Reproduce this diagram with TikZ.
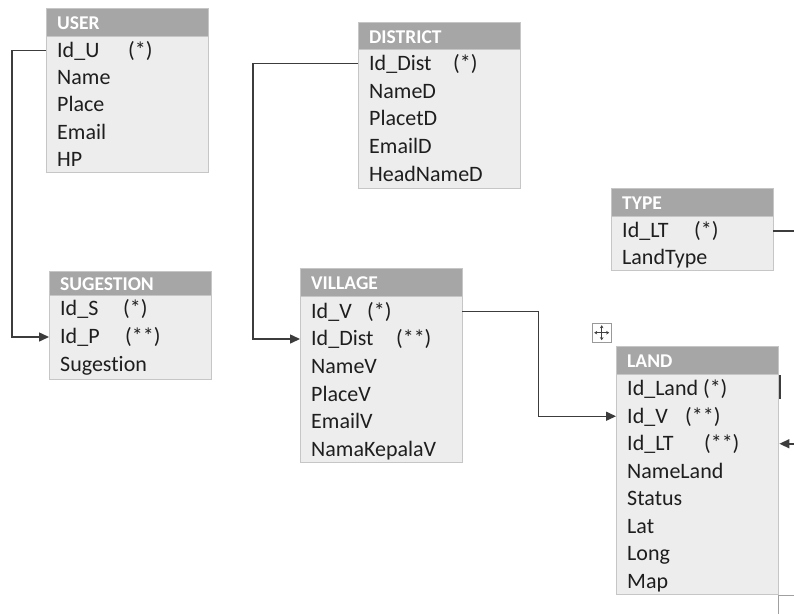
\documentclass[tikz,border=0pt]{standalone}
\usepackage{fontspec}
\setmainfont{Carlito}[Ligatures=NoCommon]
\usetikzlibrary{arrows.meta}
\definecolor{hdrgray}{HTML}{A6A6A6}
\definecolor{bodygray}{HTML}{EDEDED}
\definecolor{edgegray}{HTML}{C6C6C6}
\definecolor{linegray}{HTML}{3C3C3C}
\definecolor{txt}{HTML}{1E1E1E}
\definecolor{cornergray}{HTML}{A0A0A0}
\newcommand\bodyfnt{\fontsize{22bp}{26bp}\selectfont}
\newcommand\hdrfnt{\fontsize{19.5bp}{23bp}\selectfont\bfseries}
\tikzset{
  hdr/.style={anchor=north west, draw=edgegray, fill=hdrgray, minimum width=162bp,
    text width=140bp, inner xsep=11bp, inner ysep=0pt, align=left, text=white,
    font=\hdrfnt, text height=15.3bp, text depth=0pt},
  tblbody/.style={anchor=north west, draw=edgegray, fill=bodygray, minimum width=162bp, inner sep=0pt},
  fld/.style={anchor=west, inner sep=0pt, text height=13.9bp, text depth=0pt, text=txt, font=\bodyfnt},
  conn/.style={draw=linegray, line width=1.5bp},
  arr/.style={-{Triangle[length=10bp,width=9bp]}}
}
\begin{document}
\begin{tikzpicture}[x=1bp,y=-1bp]
\useasboundingbox (0,0) rectangle (794,614);
\fill[white] (0,0) rectangle (794,614);

% USER
\node[tblbody, minimum height=136bp] (userB) at (46,36) {};
\node[hdr, minimum height=28bp] (user) at (46,8) {USER};
\foreach \t [count=\i] in {{\makebox[71bp][l]{Id\_U}(*)},Name,Place,Email,HP}
  \node[fld] (user-\i) at (57,{36+27.2*(\i-0.5)+1}) {\t};

% SUGESTION
\node[tblbody, minimum height=84bp] (sugB) at (49,295) {};
\node[hdr, minimum height=24bp] (sug) at (49,271) {SUGESTION};
\foreach \t [count=\i] in {{\makebox[63bp][l]{Id\_S}(*)},{\makebox[65bp][l]{Id\_P}(**)},Sugestion}
  \node[fld] (sug-\i) at (60,{295+28*(\i-0.5)+0}) {\t};

% DISTRICT
\node[tblbody, minimum height=139bp] (distB) at (358,49) {};
\node[hdr, minimum height=27bp] (dist) at (358,22) {DISTRICT};
\foreach \t [count=\i] in {{\makebox[84bp][l]{Id\_Dist}(*)},NameD,PlacetD,EmailD,HeadNameD}
  \node[fld] (dist-\i) at (369,{49+27.8*(\i-0.5)+0.5}) {\t};

% VILLAGE
\node[tblbody, minimum height=166bp] (vilB) at (300,296) {};
\node[hdr, minimum height=28bp] (vil) at (300,268) {VILLAGE};
\foreach \t [count=\i] in {{\makebox[56bp][l]{Id\_V}(*)},{\makebox[85bp][l]{Id\_Dist}(**)},NameV,PlaceV,EmailV,NamaKepalaV}
  \node[fld] (vil-\i) at (311,{296+27.67*(\i-0.5)+1.5}) {\t};

% TYPE
\node[tblbody, minimum height=54bp] (typeB) at (611,216) {};
\node[hdr, minimum height=28bp] (type) at (611,188) {TYPE};
\foreach \t [count=\i] in {{\makebox[72bp][l]{Id\_LT}(*)},LandType}
  \node[fld] (type-\i) at (622,{216+27*(\i-0.5)+1.5}) {\t};

% LAND
\node[tblbody, minimum height=220bp] (landB) at (616,374) {};
\node[hdr, minimum height=28bp] (land) at (616,346) {LAND};
\foreach \t [count=\i] in {{Id\_Land (*)},{\makebox[58bp][l]{Id\_V}(**)},{\makebox[77bp][l]{Id\_LT}(**)},NameLand,Status,Lat,Long,Map}
  \node[fld] (land-\i) at (627,{374+27.5*(\i-0.5)+1}) {\t};

% move handle
\node[draw=gray!80, fill=white, minimum size=19bp, inner sep=0pt, anchor=north west] (movehandle) at (592,323) {};
\foreach \a in {0,90,180,270}
  \draw[-{Stealth[length=3bp,width=3.6bp]}, line width=0.9bp, gray!50!black] (movehandle.center) -- ++(\a:7.5);

% connectors
\coordinate (rightedge) at (794,0);
\draw[conn,arr] (userB.west |- user-1) -- ++(-34,0) |- (sugB.west |- sug-2);
\draw[conn,arr] (distB.west |- dist-1) -- ++(-105,0) |- (vilB.west |- vil-2);
\draw[conn,arr] (vilB.east |- vil-1) -- ++(76,0) |- (landB.west |- land-2);
\draw[conn] (typeB.east |- type-1) -- (rightedge |- type-1);
\draw[conn,arr] (rightedge |- land-3) -- ([xshift=1bp]landB.east |- land-3);

% cursor bar and corner of next box
\draw[linegray, line width=2bp] (780,375) -- (780,399);
\draw[cornergray, line width=1.5bp] (778.5,614) -- (778.5,595.5) -- (794,595.5);
\end{tikzpicture}
\end{document}
